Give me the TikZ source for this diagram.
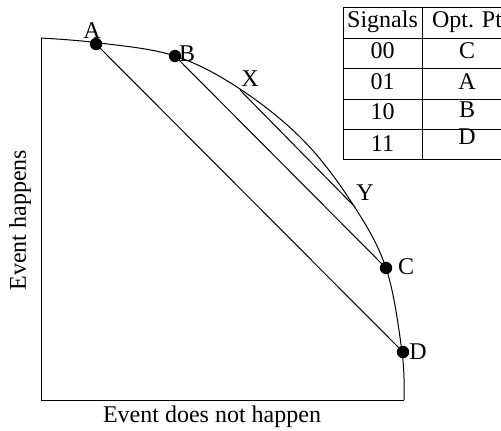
\documentclass[tikz,border=0pt]{standalone}
\usepackage{fontspec}
\setmainfont{Liberation Serif}
\begin{document}
\begin{tikzpicture}[x=0.5pt,y=-0.5pt,
  every node/.style={font=\fontsize{12}{14}\selectfont, inner sep=0pt},
  dot/.style={circle,fill=black,minimum size=6.2pt,inner sep=0pt},
  ln/.style={line width=0.5pt},
  cell/.style={text height=8pt,text depth=2.5pt}]
\useasboundingbox (0,0) rectangle (501,430);
% axes and frontier
\draw[ln] (41,38) -- (41,400) -- (404,400);
\draw[ln] plot[smooth,tension=0.6] coordinates {(41,38) (100,43) (175,56) (240,89) (303,140) (352,203) (386,268) (402,352) (404,400)};
% points
\node[dot] (A) at (96,44) {};
\node[dot] (B) at (175,56) {};
\node[dot] (C) at (386,268) {};
\node[dot] (D) at (403,352) {};
\coordinate (X) at (240,90);
\coordinate (Y) at (355,207);
\draw[ln] (A.center) -- (D.center);
\draw[ln] (B.center) -- (C.center);
\draw[ln] (X) -- (Y);
% labels
\node (lA) at (92,31) {A};
\node (lB) at (187,54) {B};
\node (lX) at (250,79) {X};
\node (lY) at (365,193) {Y};
\node (lC) at (406,267) {C};
\node (lD) at (418,352) {D};
\node[rotate=90] (ylab) at (20,220) {Event happens};
\node (xlab) at (212,417) {Event does not happen};
% table
\draw[ln] (343,7) rectangle (512,159);
\draw[ln] (422,7) -- (422,159);
\draw[ln] (343,38) -- (512,38);
\draw[ln] (343,68) -- (512,68);
\draw[ln] (343,99) -- (512,99);
\draw[ln] (343,129) -- (512,129);
\node[cell] (h1) at (382.5,22) {Signals};
\node[cell] (h2) at (467,22) {Opt. Pt};
\node[cell] (s1) at (382.5,53) {00};
\node[cell] (o1) at (467,53) {C};
\node[cell] (s2) at (382.5,84) {01};
\node[cell] (o2) at (467,84) {A};
\node[cell] (s3) at (382.5,114) {10};
\node[cell] (o3) at (467,112) {B};
\node[cell] (s4) at (382.5,146) {11};
\node[cell] (o4) at (467,139) {D};
\end{tikzpicture}
\end{document}
